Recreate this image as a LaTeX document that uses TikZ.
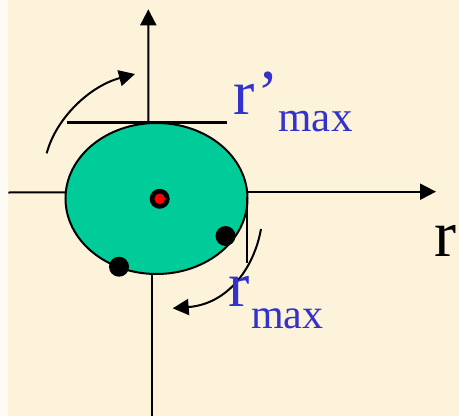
\documentclass[tikz,border=0pt]{standalone}
\usepackage{fontspec}
\setmainfont{Liberation Serif}
\usetikzlibrary{arrows.meta}
\definecolor{paper}{RGB}{252,243,218}
\definecolor{disc}{RGB}{0,204,153}
\definecolor{rblue}{RGB}{51,51,204}

\begin{document}
\begin{tikzpicture}[x=1pt,y=-1pt,line width=2pt,
    >={Triangle[length=16pt,width=16pt]}]
  \useasboundingbox (0,0) rectangle (459,416);
  \fill[white!70!paper] (0,0) rectangle (8,416);
  \fill[paper] (8,0) rectangle (459,416);

  % axes, drawn first so the disc hides their middle
  \coordinate (O) at (150,192);
  \coordinate (ytip) at (148.3,9.3);
  \coordinate (xtip) at (436,191.7);
  \draw[->] (148.4,192) -- (ytip);
  \draw (151.7,200) -- (151.7,416);
  \draw (8.3,192.5) -- (O);
  \draw[->] (O |- xtip) -- (xtip);

  % disc and its tangents
  \coordinate (C) at (156.5,198.5);
  \draw[fill=disc] (C) ellipse [x radius=91, y radius=75.5];
  \draw[line width=2.4pt] (67,122.5) -- (227,122.5);
  \draw[line width=2.4pt] (246.8,197) -- (246.8,262.7);

  % centre and the two marked points
  \fill (159.7,198.8) circle (10);
  \fill[red] (159.7,198.8) circle (5.3);
  \fill (225.5,236) circle (10);
  \fill (119,266.7) circle (10);

  % rotation arrows
  \coordinate (a1) at (46.7,153.3);
  \coordinate (a2) at (135,74);
  \coordinate (b1) at (261,229);
  \coordinate (b2) at (172.7,308.3);
  \draw[->] (a1) .. controls (56,118) and (90,86) .. (a2);
  \draw[->] (b1) .. controls (254,268) and (228,304) .. (b2);

  % labels
  \node[rblue,inner sep=0,anchor=base west] (rpmax) at (232.5,114.3)
    {\fontsize{64}{64}\selectfont r’\raisebox{-16.7pt}{\fontsize{43}{43}\selectfont max}};
  \node[rblue,inner sep=0,anchor=base west] (rmax) at (227.3,306.7)
    {\fontsize{64}{64}\selectfont r\hspace{1.5pt}\raisebox{-21.6pt}{\fontsize{42}{42}\selectfont max}};
  \node[inner sep=0,anchor=base west] (raxis) at (433,256.7)
    {\fontsize{66}{66}\selectfont r};
\end{tikzpicture}
\end{document}
